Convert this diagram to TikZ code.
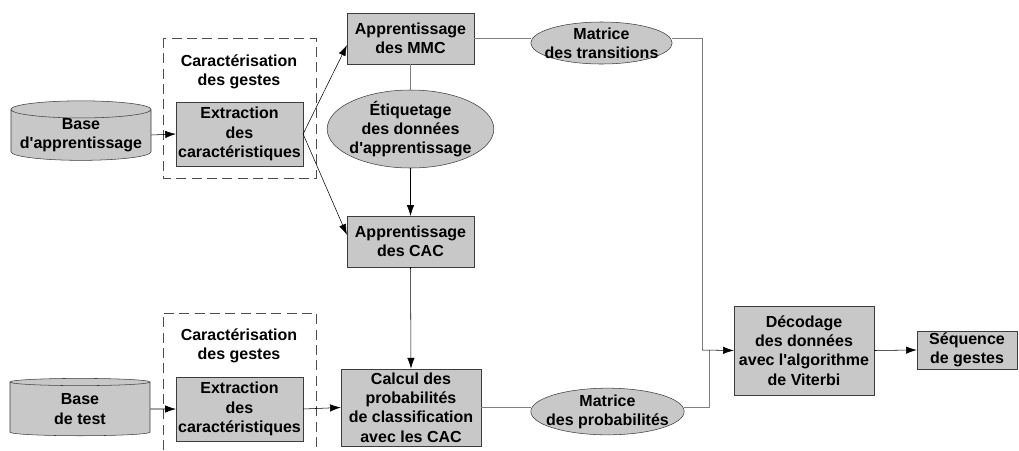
\documentclass[tikz,border=0pt]{standalone}
\usepackage{fontspec}
\newfontfamily\diagfont{Liberation Sans}
\usetikzlibrary{shapes.geometric,arrows.meta}
\definecolor{boxgray}{RGB}{200,200,200}
\definecolor{edgegray}{RGB}{60,60,60}

\begin{document}
\begin{tikzpicture}[x=0.75pt,y=-0.75pt,
    every node/.style={font=\diagfont\bfseries\fontsize{12}{14.4}\selectfont,align=center},
    bloc/.style={draw=edgegray,fill=boxgray,inner sep=0pt},
    ovale/.style={ellipse,draw=edgegray,fill=boxgray,inner sep=0pt},
    base/.style={cylinder,shape border rotate=90,aspect=0.14,draw=edgegray,
        cylinder uses custom fill,cylinder body fill=boxgray,cylinder end fill=boxgray,
        inner sep=0pt,minimum width=105pt,minimum height=43pt},
    fleche/.style={-{Latex[length=8pt,width=5.5pt]}},
    lien/.style={draw=gray},
    groupe/.style={draw=gray!60!black,dash pattern=on 7.5pt off 4pt}]
        \useasboundingbox (0,0) rectangle (1019,450);
        % blocs de caracterisation
        \draw[groupe] (163,38) rectangle (316,178);
        \draw[groupe] (163,450) -- (163,313) -- (316,313) -- (316,450);
        \node (titre1) at (239,72) {Caractérisation\\des gestes};
        \node (titre2) at (239,346) {Caractérisation\\des gestes};
        \node[base] (base1) at (81,135) {Base\\d'apprentissage};
        \node[base] (base2) at (80,409) {Base\\de test};
        \node[bloc,minimum width=95pt,minimum height=48pt] (ext1) at (239.5,134) {Extraction\\des\\caractéristiques};
        \node[bloc,minimum width=95pt,minimum height=48pt] (ext2) at (239.5,409) {Extraction\\des\\caractéristiques};
        % apprentissage
        \node[bloc,minimum width=95pt,minimum height=38pt] (mmc) at (410.5,38.5) {Apprentissage\\des MMC};
        \node[ovale,minimum width=125pt,minimum height=58.5pt,label=center:{Étiquetage\\des données\\d'apprentissage}] (etiq) at (410.5,129) {};
        \node[bloc,minimum width=95pt,minimum height=38pt] (cac) at (410.5,241.5) {Apprentissage\\des CAC};
        \node[ovale,minimum width=106pt,minimum height=31.5pt,label=center:{Matrice\\des transitions}] (mtrans) at (601.5,43) {};
        % reconnaissance
        \node[bloc,minimum width=105pt,minimum height=58pt] (calc) at (411,407.5) {Calcul des\\probabilités\\de classification\\avec les CAC};
        \node[ovale,minimum width=115pt,minimum height=35pt,label=center:{Matrice\\des probabilités}] (mprob) at (607.5,411.5) {};
        \node[bloc,minimum width=105pt,minimum height=67pt] (dec) at (804,350.5) {Décodage\\des données\\avec l'algorithme\\de Viterbi};
        \node[bloc,minimum width=75pt,minimum height=28.5pt] (seq) at (967,350) {Séquence\\de gestes};
        \coordinate (j1) at (702,350);
        \coordinate (j2) at (709,350);
        % liens
        \draw[fleche] (base1.east) -- (ext1.west);
        \draw[fleche] (base2.east) -- (ext2.west);
        \draw[fleche] (ext1.east) -- ([yshift=-5pt]mmc.west);
        \draw[fleche] (ext1.east) -- ([yshift=5pt]cac.west);
        \draw[lien] (mmc.south) -- (etiq.north);
        \draw[fleche] (etiq.south) -- (cac.north);
        \draw[fleche] (cac.south) -- (calc.north);
        \draw[fleche] (ext2.east) -- (calc.west);
        \draw[lien] (mmc.east) -- (mmc.east -| mtrans.west);
        \draw[lien] (mmc.east -| mtrans.east) -| (j1);
        \draw[lien] (calc.east) -- (calc.east -| mprob.west);
        \draw[lien] (calc.east -| mprob.east) -| (j2);
        \draw[fleche] (j1) -- (dec.west);
        \draw[fleche] (dec.east) -- (seq.west);
\end{tikzpicture}
\end{document}
